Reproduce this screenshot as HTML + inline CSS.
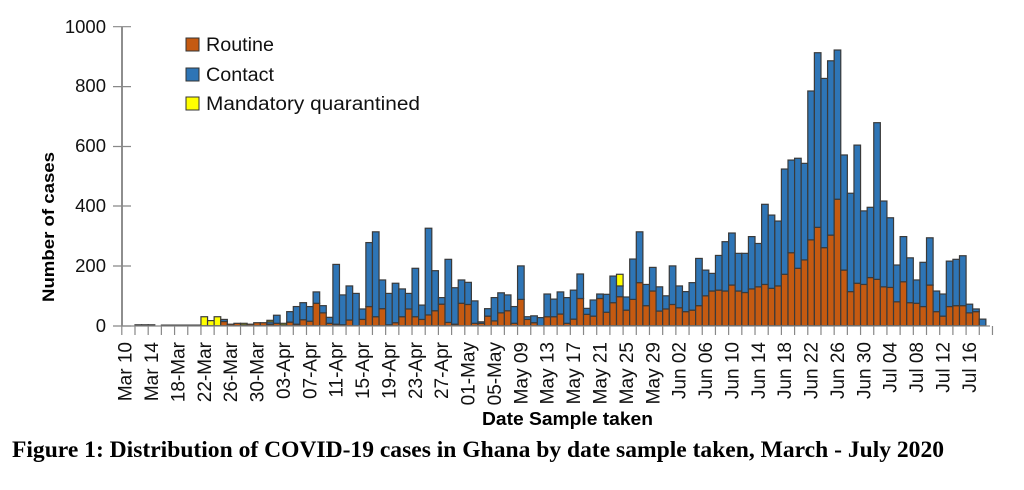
<!DOCTYPE html>
<html><head><meta charset="utf-8"><style>
html,body{margin:0;padding:0;background:#fff;width:1024px;height:490px;overflow:hidden}
svg{display:block}
</style></head><body>
<svg id="s" width="1024" height="490" xmlns="http://www.w3.org/2000/svg" font-family="'Liberation Sans', sans-serif">
<g id="bars"></g>
<line x1="122" y1="27" x2="122" y2="326" stroke="#444" stroke-width="1.2"/>
<line x1="122" y1="326" x2="990" y2="326" stroke="#888" stroke-width="1.2"/>
<g stroke="#888" stroke-width="1.2">
<line x1="113" y1="326" x2="131" y2="326"/><line x1="113" y1="266" x2="131" y2="266"/>
<line x1="113" y1="206" x2="131" y2="206"/><line x1="113" y1="146.5" x2="131" y2="146.5"/>
<line x1="113" y1="86.6" x2="131" y2="86.6"/><line x1="113" y1="26.7" x2="131" y2="26.7"/>
</g>
<g font-size="18.5" text-anchor="end" fill="#111">
<text x="106" y="332">0</text><text x="106" y="272">200</text><text x="106" y="212">400</text>
<text x="106" y="152">600</text><text x="106" y="92">800</text><text x="106" y="33">1000</text>
</g>
<text transform="translate(54,227) rotate(-90)" text-anchor="middle" font-size="17" font-weight="bold" textLength="150" lengthAdjust="spacingAndGlyphs">Number of cases</text>
<g id="xt"></g>
<text x="482" y="425" font-size="18" font-weight="bold" textLength="171" lengthAdjust="spacingAndGlyphs">Date Sample taken</text>
<text x="12" y="457" font-family="'Liberation Serif', serif" font-size="23" font-weight="bold" textLength="932" lengthAdjust="spacingAndGlyphs">Figure 1: Distribution of COVID-19 cases in Ghana by date sample taken, March - July 2020</text>
<rect x="186" y="38" width="13" height="13" fill="#c55a11" stroke="#333"/>
<rect x="186" y="68" width="13" height="13" fill="#2e75b6" stroke="#333"/>
<rect x="186" y="97" width="13" height="13" fill="#ffff00" stroke="#333"/>
<g font-size="19" fill="#111">
<text x="206" y="51" textLength="68" lengthAdjust="spacingAndGlyphs">Routine</text>
<text x="206" y="81" textLength="68" lengthAdjust="spacingAndGlyphs">Contact</text>
<text x="206" y="110" textLength="214" lengthAdjust="spacingAndGlyphs">Mandatory  quarantined</text>
</g>
</svg>
<script>
var d=[[0,0],[0,0],[3,3],[3,3],[3,3],[0,0],[2,2],[2,2],[2,2],[2,2],[2,2],[2,2],
[30,0,30],[17,0,17],[30,0,30],[21,14],[5,5],[8,8],[8,3,5],[5,5],[10,10],[10,10],[18,5,5],[35,8],[8,3,5],
[47,12],[64,5],[77,20],[64,15],[113,75],[67,43],[28,8],[205,5],[103,3],[133,19],[108,0],[56,21],
[278,64],[314,30],[153,57],[108,3],[142,10],[123,30],[108,56],[192,30],[69,21],[326,36],[184,50],[94,72],
[222,11],[127,5],[153,75],[145,71],[83,8],[13,8],[57,32],[94,16],[110,43],[103,50],[64,8],[200,88],
[30,21],[33,10],[27,0],[106,30],[89,30],[113,39],[94,8],[119,22],[173,91],[58,38],[86,32],[106,91],
[105,45],[166,77],[172,97,39],[96,52],[223,88],[314,144],[138,67],[195,116],[130,49],[100,56],[200,71],
[133,60],[114,47],[144,52],[225,67],[186,100],[175,116],[235,119],[281,116],[310,136],[242,116],[242,111],
[298,123],[275,130],[406,138],[370,125],[350,133],[524,172],[554,244],[560,192],[543,220],[785,287],
[913,329],[827,261],[886,303],[922,423],[571,186],[443,114],[604,142],[384,138],[396,161],[679,155],
[417,130],[361,128],[203,80],[298,147],[227,77],[153,75],[212,64],[294,136],[116,47],[106,32],[216,64],
[222,67],[234,67],[72,43],[56,47],[22,0]];
var NS="http://www.w3.org/2000/svg",g=document.getElementById("bars"),xt=document.getElementById("xt");
function R(x,y,w,h,f){if(h<=0)return;var r=document.createElementNS(NS,"rect");r.setAttribute("x",x);r.setAttribute("y",y);r.setAttribute("width",w);r.setAttribute("height",h);r.setAttribute("fill",f);r.setAttribute("stroke","#3a3a3a");r.setAttribute("stroke-width","1.2");g.appendChild(r);}
var y0=325.7,k=0.299;
d.forEach(function(v,i){var x=121.8+6.596*i,t=v[0],o=v[1],yl=v[2]||0,b=t-o-yl;
 if(t<=0)return;
 R(x,y0-o*k,6.6,o*k,"#c55a11");
 R(x,y0-(o+b)*k,6.6,b*k,"#2e75b6");
 R(x,y0-t*k,6.6,yl*k,"#ffff00");});
for(var i=0;i<=132;i+=2){var l=document.createElementNS(NS,"line"),x=121.8+6.596*i;l.setAttribute("x1",x);l.setAttribute("x2",x);l.setAttribute("y1",326);l.setAttribute("y2",335);l.setAttribute("stroke","#888");l.setAttribute("stroke-width","1.2");xt.appendChild(l);}
var L=["Mar 10","Mar 14","18-Mar","22-Mar","26-Mar","30-Mar","03-Apr","07-Apr","11-Apr","15-Apr","19-Apr","23-Apr","27-Apr","01-May","05-May","May 09","May 13","May 17","May 21","May 25","May 29","Jun 02","Jun 06","Jun 10","Jun 14","Jun 18","Jun 22","Jun 26","Jun 30","Jul 04","Jul 08","Jul 12","Jul 16"];
L.forEach(function(s,j){var x=121.8+6.596*4*j+3.3+6.5,t=document.createElementNS(NS,"text");t.setAttribute("transform","translate("+x+",342) rotate(-90)");t.setAttribute("text-anchor","end");t.setAttribute("font-size","19");t.setAttribute("fill","#111");t.textContent=s;xt.appendChild(t);});
</script>
</body></html>
